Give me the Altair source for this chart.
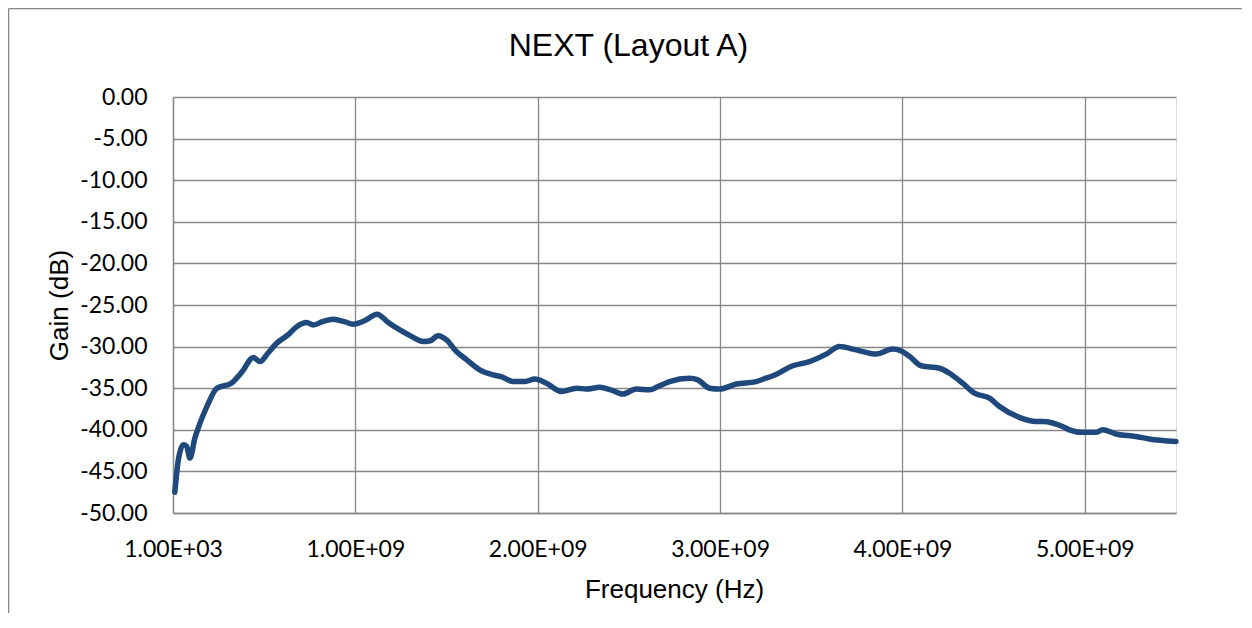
import altair as alt
import pandas as pd

freq_ghz = [0.010, 0.030, 0.057, 0.075, 0.093, 0.120, 0.148, 0.190, 0.240, 0.320,
            0.380, 0.440, 0.477, 0.520, 0.568, 0.630, 0.678, 0.733, 0.769, 0.820,
            0.878, 0.940, 0.988, 1.050, 1.120, 1.180, 1.244, 1.310, 1.372, 1.410,
            1.454, 1.500, 1.554, 1.600, 1.682, 1.755, 1.800, 1.865, 1.930, 1.984,
            2.048, 2.130, 2.212, 2.267, 2.340, 2.400, 2.467, 2.541, 2.614, 2.660,
            2.723, 2.833, 2.878, 2.942, 2.997, 3.089, 3.198, 3.250, 3.290, 3.399,
            3.490, 3.582, 3.655, 3.746, 3.856, 3.947, 3.990, 4.040, 4.102, 4.203,
            4.258, 4.330, 4.395, 4.477, 4.532, 4.641, 4.733, 4.769, 4.878, 4.915,
            4.988, 5.061, 5.097, 5.171, 5.280, 5.353, 5.500]
gain_db = [-47.5, -43.5, -41.8, -42.0, -43.4, -41.0, -39.2, -37.0, -35.0, -34.4,
           -33.0, -31.3, -31.8, -30.8, -29.6, -28.6, -27.6, -27.1, -27.4, -27.0,
           -26.7, -27.0, -27.3, -26.9, -26.1, -27.1, -28.0, -28.8, -29.4, -29.3,
           -28.7, -29.2, -30.6, -31.4, -32.8, -33.4, -33.6, -34.2, -34.2, -33.9,
           -34.4, -35.4, -35.0, -35.1, -34.9, -35.2, -35.7, -35.1, -35.2, -34.8,
           -34.2, -33.8, -34.0, -35.0, -35.1, -34.5, -34.2, -33.8, -33.5, -32.3,
           -31.8, -30.9, -30.0, -30.4, -30.9, -30.3, -30.5, -31.2, -32.3, -32.6,
           -33.2, -34.4, -35.6, -36.2, -37.2, -38.5, -39.0, -39.0, -39.6, -40.0,
           -40.3, -40.3, -40.0, -40.5, -40.8, -41.1, -41.4]

x_ticks = [1e3, 1e9, 2e9, 3e9, 4e9, 5e9]
y_ticks = [0, -5, -10, -15, -20, -25, -30, -35, -40, -45, -50]
chart_title = "NEXT (Layout A)"

df = pd.DataFrame({"f": [v * 1e9 for v in freq_ghz], "g": gain_db})

GRID = "#878787"
LABEL_FONT = "Lato"
TITLE_FONT = "Liberation Sans"

line = alt.Chart(df).mark_line(
    color="#1F497D", strokeWidth=5.5, interpolate="monotone", strokeCap="round", strokeJoin="round"
).encode(
    x=alt.X("f:Q",
            scale=alt.Scale(domain=[1e3, 5.5e9], nice=False, zero=False),
            axis=alt.Axis(
                values=x_ticks,
                labelExpr="datum.value < 1e6 ? '1.00E+03' : format(datum.value / 1e9, '.2f') + 'E+09'",
                title="Frequency (Hz)",
                titleX=501, titleY=84, titleBaseline="alphabetic", titleAlign="center",
                grid=True, gridColor=GRID, gridWidth=1.3,
                domainColor=GRID, domainWidth=1.3,
                ticks=False, tickSize=0, labelPadding=36, labelBaseline="middle",
                labelFlush=False, labelOverlap=False,
                labelFont=LABEL_FONT, labelFontSize=23, labelColor="#000000",
                titleFont=TITLE_FONT, titleFontSize=26, titleFontWeight="normal", titleColor="#000000",
            )),
    y=alt.Y("g:Q",
            scale=alt.Scale(domain=[-50, 0], nice=False),
            axis=alt.Axis(
                values=y_ticks,
                labelExpr="(datum.value < 0 ? '-' : '') + format(abs(datum.value), '.2f')",
                title="Gain (dB)",
                titleX=-106, titleY=208, titleAngle=-90, titleBaseline="alphabetic", titleAlign="center",
                grid=True, gridColor=GRID, gridWidth=1.3,
                domainColor=GRID, domainWidth=1.3,
                ticks=False, tickSize=0, labelPadding=26,
                labelFlush=False, labelOverlap=False,
                labelFont=LABEL_FONT, labelFontSize=23, labelColor="#000000",
                titleFont=TITLE_FONT, titleFontSize=26, titleFontWeight="normal", titleColor="#000000",
            )),
)

title_df = pd.DataFrame({"t": [chart_title]})
title_mark = alt.Chart(title_df).mark_text(
    font=TITLE_FONT, fontSize=32, color="#000000", align="center", baseline="alphabetic"
).encode(text="t:N", x=alt.value(455.5), y=alt.value(-41))

border_df = pd.DataFrame({"k": [0]})
top_border = alt.Chart(border_df).mark_rule(color=GRID, strokeWidth=1.5).encode(
    x=alt.value(-164.5), x2=alt.value(1080), y=alt.value(-88.5)
)
left_border = alt.Chart(border_df).mark_rule(color=GRID, strokeWidth=1.5).encode(
    x=alt.value(-164.5), y=alt.value(-88.5), y2=alt.value(530)
)

chart = alt.layer(line, title_mark, top_border, left_border).properties(
    width=1003, height=416,
    autosize=alt.AutoSizeParams(type="none"),
    padding={"left": 165, "top": 89, "right": 66, "bottom": 100},
).configure_view(stroke=None).configure(background="#ffffff")

chart.save("out.html", embed_options={"renderer": "svg", "actions": False})
